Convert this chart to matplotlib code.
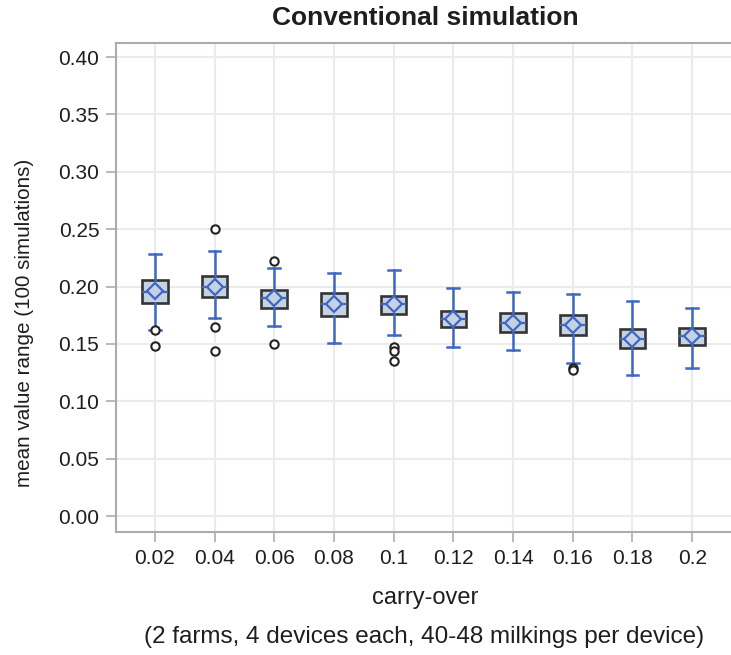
import matplotlib
matplotlib.use("Agg")
import matplotlib.pyplot as plt

plt.rcParams["font.family"] = ["Liberation Sans", "DejaVu Sans"]

# carry-over categories
CATEGORIES = ["0.02", "0.04", "0.06", "0.08", "0.1", "0.12", "0.14", "0.16", "0.18", "0.2"]

# box statistics
WHISKER_LOW = [0.162, 0.173, 0.1655, 0.151, 0.158, 0.1475, 0.1446, 0.133, 0.123, 0.129]
Q1 = [0.186, 0.191, 0.181, 0.1745, 0.1757, 0.165, 0.160, 0.1577, 0.146, 0.149]
MEDIAN = [0.195, 0.200, 0.190, 0.1847, 0.1847, 0.1716, 0.1678, 0.1664, 0.1547, 0.1568]
MEAN = [0.196, 0.200, 0.190, 0.1847, 0.1847, 0.1716, 0.1678, 0.1664, 0.1547, 0.1568]
Q3 = [0.2056, 0.209, 0.197, 0.194, 0.1916, 0.1789, 0.1765, 0.175, 0.1634, 0.164]
WHISKER_HIGH = [0.228, 0.231, 0.216, 0.212, 0.2143, 0.1983, 0.1948, 0.1934, 0.1876, 0.1817]
OUTLIERS = [
    [0.162, 0.148],
    [0.250, 0.165, 0.1437],
    [0.2224, 0.150],
    [],
    [0.147, 0.144, 0.135],
    [],
    [],
    [0.129, 0.127],
    [],
    [],
]

Y_TICKS = [0.00, 0.05, 0.10, 0.15, 0.20, 0.25, 0.30, 0.35, 0.40]

BLUE = "#3f67c4"
FILL = "#c5d2e4"
EDGE = "#353535"
SPINE = "#a9adb2"
GRID = "#ebebeb"
TEXT = "#1e1e1e"

W, H = 731, 655

stats = []
for i, cat in enumerate(CATEGORIES):
    stats.append({
        "label": cat,
        "whislo": WHISKER_LOW[i],
        "q1": Q1[i],
        "med": MEDIAN[i],
        "mean": MEAN[i],
        "q3": Q3[i],
        "whishi": WHISKER_HIGH[i],
        "fliers": OUTLIERS[i],
    })

fig = plt.figure(figsize=(W / 100, H / 100), dpi=100)
ax = fig.add_axes([116 / W, 1 - 532 / H, 1 - 116 / W, (532 - 43) / H])

positions = list(range(len(CATEGORIES)))
ax.bxp(
    stats,
    positions=positions,
    widths=0.43,
    patch_artist=True,
    showmeans=True,
    showcaps=True,
    boxprops=dict(facecolor=FILL, edgecolor=EDGE, linewidth=1.9),
    whiskerprops=dict(color=BLUE, linewidth=1.8),
    capprops=dict(color=BLUE, linewidth=1.8),
    capwidths=0.2,
    medianprops=dict(color=BLUE, linewidth=1.6),
    meanprops=dict(marker="D", markersize=8.5, markerfacecolor=FILL,
                   markeredgecolor=BLUE, markeredgewidth=1.6),
    flierprops=dict(marker="o", markersize=6, markerfacecolor="white",
                    markeredgecolor="#222222", markeredgewidth=1.5),
    zorder=3,
)

ax.set_xlim(-0.65, 9.65)
ax.set_ylim(-0.0139, 0.4122)
ax.set_yticks(Y_TICKS)
ax.set_yticklabels([f"{v:.2f}" for v in Y_TICKS])
ax.set_xticks(positions)
ax.set_xticklabels(CATEGORIES)

ax.grid(True, color=GRID, linewidth=1.5, zorder=0)
ax.set_axisbelow(True)
for side in ["left", "top", "bottom"]:
    ax.spines[side].set_color(SPINE)
    ax.spines[side].set_linewidth(1.5)
ax.spines["right"].set_visible(False)
ax.tick_params(axis="both", colors=SPINE, length=7, width=1.2, labelsize=15,
               labelcolor=TEXT)
ax.tick_params(axis="x", pad=5.5)
ax.tick_params(axis="y", pad=5)

# titles and axis labels placed on the figure, like the reference layout
fig.text(425 / W, 1 - 18 / H, "Conventional simulation", ha="center", va="center",
         fontsize=19, fontweight="bold", color=TEXT)
fig.text(425 / W, 1 - 598 / H, "carry-over", ha="center", va="center",
         fontsize=17, color=TEXT)
fig.text(424 / W, 1 - 637 / H, "(2 farms, 4 devices each, 40-48 milkings per device)",
         ha="center", va="center", fontsize=17.5, color=TEXT)
fig.text(25 / W, 1 - 323 / H, "mean value range (100 simulations)", ha="center",
         va="center", rotation=90, fontsize=14.9, color=TEXT)

fig.savefig("out.png", dpi=100)
